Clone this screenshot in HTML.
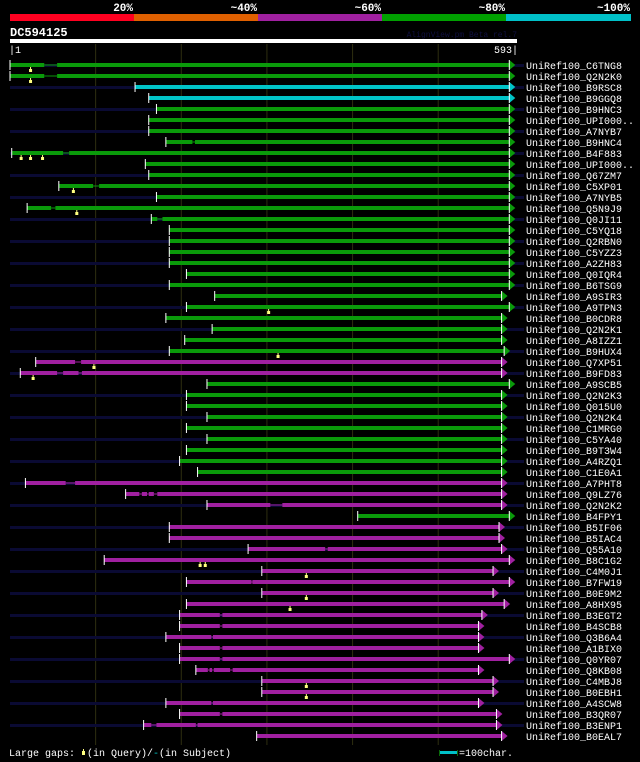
<!DOCTYPE html>
<html><head><meta charset="utf-8"><style>
html,body{margin:0;padding:0;background:#000;}
svg{display:block;}
text{font-family:"Liberation Mono",monospace;}
</style></head><body>
<svg id="chart" width="640" height="762" viewBox="0 0 640 762" xmlns="http://www.w3.org/2000/svg">
<rect x="0" y="0" width="640" height="762" fill="#000"/>
<g>
<rect x="10" y="14" width="124" height="7" fill="#ff0020"/>
<rect x="134" y="14" width="124" height="7" fill="#e06000"/>
<rect x="258" y="14" width="124" height="7" fill="#a020a0"/>
<rect x="382" y="14" width="124" height="7" fill="#00a000"/>
<rect x="506" y="14" width="125" height="7" fill="#00c0c8"/>
<text x="133" y="11" font-size="11" font-weight="bold" fill="#fff" text-anchor="end">20%</text>
<text x="257" y="11" font-size="11" font-weight="bold" fill="#fff" text-anchor="end">~40%</text>
<text x="381" y="11" font-size="11" font-weight="bold" fill="#fff" text-anchor="end">~60%</text>
<text x="505" y="11" font-size="11" font-weight="bold" fill="#fff" text-anchor="end">~80%</text>
<text x="630" y="11" font-size="11" font-weight="bold" fill="#fff" text-anchor="end">~100%</text>
</g>
<text x="10" y="36" font-size="12" font-weight="bold" fill="#fff">DC594125</text>
<text x="517" y="37" font-size="8" fill="#101040" text-anchor="end">AlignView.pm Beta rel.7</text>
<rect x="10" y="39" width="507" height="4" fill="#fff"/>
<text x="9" y="53" font-size="10" fill="#fff">|1</text>
<text x="518" y="53" font-size="10" fill="#fff" text-anchor="end">593|</text>
<g id="grid"></g>
<g id="rows"></g>
<g>
<text x="9" y="756" font-size="10" fill="#fff">Large gaps:</text>
<rect x="82" y="751" width="3" height="4" fill="#ffff80"/><rect x="83" y="749" width="1" height="2" fill="#ffff80"/>
<text x="87" y="756" font-size="10" fill="#fff">(in Query)/</text>
<text x="153" y="756" font-size="10" fill="#00c8c8">-</text>
<text x="159" y="756" font-size="10" fill="#fff">(in Subject)</text>
<rect x="439" y="750" width="1" height="6" fill="#0a6a0a"/>
<rect x="440" y="751" width="17" height="3" fill="#00c0c8"/>
<rect x="457" y="750" width="1" height="6" fill="#0a6a0a"/>
<text x="459" y="756" font-size="10" fill="#fff">=100char.</text>
</g>
</svg>
<script>
const queryLength = 593;
const gridTicks = [101, 201, 301, 401, 501];
const rowNames = ["UniRef100_C6TNG8","UniRef100_Q2N2K0","UniRef100_B9RSC8","UniRef100_B9GGQ8","UniRef100_B9HNC3","UniRef100_UPI000..","UniRef100_A7NYB7","UniRef100_B9HNC4","UniRef100_B4F883","UniRef100_UPI000..","UniRef100_Q67ZM7","UniRef100_C5XP01","UniRef100_A7NYB5","UniRef100_Q5N9J9","UniRef100_Q0JI11","UniRef100_C5YQ18","UniRef100_Q2RBN0","UniRef100_C5YZZ3","UniRef100_A2ZH83","UniRef100_Q0IQR4","UniRef100_B6TSG9","UniRef100_A9SIR3","UniRef100_A9TPN3","UniRef100_B0CDR8","UniRef100_Q2N2K1","UniRef100_A8IZZ1","UniRef100_B9HUX4","UniRef100_Q7XP51","UniRef100_B9FD83","UniRef100_A9SCB5","UniRef100_Q2N2K3","UniRef100_Q015U0","UniRef100_Q2N2K4","UniRef100_C1MRG0","UniRef100_C5YA40","UniRef100_B9T3W4","UniRef100_A4RZQ1","UniRef100_C1E0A1","UniRef100_A7PHT8","UniRef100_Q9LZ76","UniRef100_Q2N2K2","UniRef100_B4FPY1","UniRef100_B5IF06","UniRef100_B5IAC4","UniRef100_Q55A10","UniRef100_B8C1G2","UniRef100_C4M0J1","UniRef100_B7FW19","UniRef100_B0E9M2","UniRef100_A8HX95","UniRef100_B3EGT2","UniRef100_B4SCB8","UniRef100_Q3B6A4","UniRef100_A1BIX0","UniRef100_Q0YR07","UniRef100_Q8KB08","UniRef100_C4MBJ8","UniRef100_B0EBH1","UniRef100_A4SCW8","UniRef100_B3QR07","UniRef100_B3ENP1","UniRef100_B0EAL7"];
const rowIdentity = ["g","g","c","c","g","g","g","g","g","g","g","g","g","g","g","g","g","g","g","g","g","g","g","g","g","g","g","m","m","g","g","g","g","g","g","g","g","g","m","m","m","g","m","m","m","m","m","m","m","m","m","m","m","m","m","m","m","m","m","m","m","m"];
const rowSegments = [
[[1,41],[56,591]],[[1,41],[56,591]],[[147,591]],[[163,591]],[[172,591]],[[163,591]],[[163,591]],[[183,214],[217,591]],[[3,63],[70,591]],[[159,591]],
[[163,591]],[[58,98],[105,591]],[[172,591]],[[21,49],[54,591]],[[166,173],[179,591]],[[187,591]],[[187,591]],[[187,591]],[[187,591]],[[207,591]],
[[187,591]],[[240,582]],[[207,591]],[[183,582]],[[237,582]],[[205,582]],[[187,585]],[[31,77],[84,582]],[[13,56],[63,81],[85,582]],[[231,591]],
[[207,582]],[[207,582]],[[231,582]],[[207,582]],[[231,582]],[[207,582]],[[199,582]],[[220,582]],[[19,66],[77,582]],[[136,152],[155,161],[163,169],[173,582]],
[[231,305],[319,582]],[[407,591]],[[187,579]],[[187,579]],[[279,369],[372,582]],[[111,591]],[[295,572]],[[207,283],[284,591]],[[295,572]],[[207,585]],
[[199,246],[249,559]],[[199,246],[249,555]],[[183,236],[238,555]],[[199,246],[249,555]],[[199,246],[249,591]],[[218,232],[234,237],[239,258],[261,555]],[[295,572]],[[295,572]],[[183,236],[238,555]],[[199,246],[249,576]],
[[157,166],[172,218],[220,576]],[[289,582]]];
const queryGaps = [[25],[25],[],[],[],[],[],[],[14,25,39],[],[],[75],[],[79],[],[],[],[],[],[],[],[],[303],[],[],[],[314],[99],[28],[],[],[],[],[],[],[],[],[],[],[],[],[],[],[],[],[223,229],[347],[],[347],[328],[],[],[],[],[],[],[347],[347],[],[],[],[]];

const palette = {g:"#0a9a0a", c:"#00c4c8", m:"#a020a0"};
const NS = "http://www.w3.org/2000/svg";
function xPos(p){ return 10 + (p - 1) * (507 / (queryLength - 1)); }
function yPos(i){ return 65 + i * 11; }
function mk(tag, attrs, parent){ const e = document.createElementNS(NS, tag); for (const k in attrs) e.setAttribute(k, attrs[k]); parent.appendChild(e); return e; }

const grid = document.getElementById('grid');
gridTicks.forEach(t => {
  const l = mk('line', {x1: xPos(t), x2: xPos(t), y1: 44, y2: 745, stroke: "#2e2e10", 'stroke-width': 1}, grid);
  
  
});

const rows = document.getElementById('rows');
rowNames.forEach((name, i) => {
  const y = yPos(i);
  const g = mk('g', {}, rows);
  
  
  if (i % 2 === 0) {
    const s = mk('rect', {x: 10, y: y - 1, width: 514, height: 3, fill: "#0a0a33"}, g);
    
    
  }
  const col = palette[rowIdentity[i]];
  const segs = rowSegments[i];
  const tip = xPos(segs[segs.length - 1][1]);
  const barEnd = tip - 6;
  for (let k = 0; k < segs.length; k++) {
    const x1 = xPos(segs[k][0]);
    const x2 = k === segs.length - 1 ? barEnd : xPos(segs[k][1]);
    const b = mk('rect', {x: x1, y: y - 2, width: Math.max(1, x2 - x1), height: 4, fill: col}, g);
    
    
    if (k < segs.length - 1) {
      const nx = xPos(segs[k + 1][0]);
      const gl = mk('rect', {x: x2, y: y - 0.5, width: Math.max(1, nx - x2), height: 1, fill: col}, g);
      
      
    }
  }
  const tri = mk('polygon', {points: `${barEnd},${y - 5} ${tip},${y} ${barEnd},${y + 5}`, fill: col}, g);
  
  
  mk('rect', {x: barEnd - 0.5, y: y - 5, width: 1, height: 10, fill: "#fff"}, g);
  const st = mk('rect', {x: xPos(segs[0][0]) - 0.5, y: y - 5, width: 1, height: 10, fill: "#fff"}, g);
  
  
  queryGaps[i].forEach(q => {
    const mx = xPos(q);
    const m = mk('rect', {x: mx - 1.5, y: y + 4, width: 3, height: 3, fill: "#ffff80"}, g);
    
    
    mk('rect', {x: mx - 0.5, y: y + 2, width: 1, height: 2, fill: "#ffff80"}, g);
  });
  const t = mk('text', {x: 526, y: y + 4, 'font-size': 10, fill: "#fff"}, g);
  t.textContent = name;
  
  
});
</script>
</body></html>
